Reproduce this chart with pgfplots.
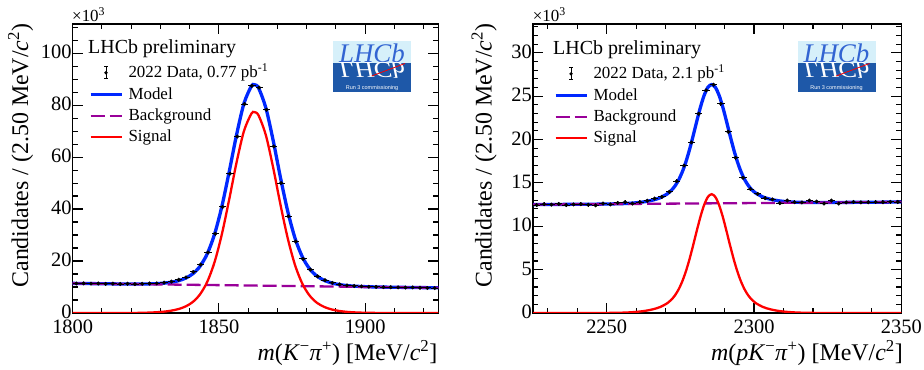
\documentclass[border=0pt]{standalone}
\usepackage{pgfplots}
\pgfplotsset{compat=1.18}
\usepackage{pgfplotstable}
\usepackage{fontspec}
\setmainfont{Liberation Serif}
\newfontfamily\logosans{Liberation Sans}
\definecolor{rootblue}{RGB}{0,40,255}
\definecolor{rootred}{RGB}{255,0,0}
\definecolor{rootviolet}{RGB}{153,0,153}
\definecolor{logolight}{RGB}{214,240,250}
\definecolor{logodark}{RGB}{30,88,168}
\definecolor{logotext}{RGB}{50,100,210}

% ---------- D0 -> K- pi+ (values in units of 10^3) ----------
\pgfplotstableread{
x y
1801.25 11.35
1803.75 11.40
1806.25 11.30
1808.75 11.35
1811.25 11.20
1813.75 11.30
1816.25 11.15
1818.75 11.25
1821.25 11.10
1823.75 11.25
1826.25 11.35
1828.75 11.40
1831.25 11.70
1833.75 12.10
1836.25 12.80
1838.75 13.70
1841.25 15.80
1843.75 18.60
1846.25 23.30
1848.75 30.50
1851.25 40.80
1853.75 53.60
1856.25 67.90
1858.75 80.40
1861.25 87.40
1863.75 86.70
1866.25 78.20
1868.75 64.10
1871.25 50.00
1873.75 37.20
1876.25 27.50
1878.75 20.80
1881.25 16.70
1883.75 14.10
1886.25 12.60
1888.75 11.60
1891.25 11.00
1893.75 10.60
1896.25 10.40
1898.75 10.25
1901.25 10.10
1903.75 10.05
1906.25 9.95
1908.75 9.90
1911.25 9.85
1913.75 9.80
1916.25 9.85
1918.75 9.70
1921.25 9.65
1923.75 9.60
}\dzdata

\pgfplotstableread{
x tot sig
1800 11.4 0
1810 11.264 0
1820 11.128 0
1823.55 11.16 0.08
1826.05 11.196 0.15
1828.55 11.292 0.28
1831.05 11.478 0.50
1833.55 11.814 0.87
1836.05 12.39 1.48
1838.55 13.376 2.50
1841.05 15.072 4.23
1843.55 18.008 7.20
1846.05 22.894 12.12
1848.55 30.50 19.76
1851.05 41.266 30.56
1853.55 54.612 43.94
1856.05 68.697 58.06
1858.55 80.603 70.0
1861.05 87.199 76.63
1862.1 87.855 77.3
1863.55 86.565 76.03
1866.05 78.861 68.36
1868.55 66.337 55.87
1871.05 52.033 41.6
1873.55 39.009 28.61
1876.05 28.675 18.31
1878.55 21.511 11.18
1881.05 16.927 6.63
1883.55 14.153 3.89
1886.05 12.529 2.30
1888.55 11.554 1.36
1891.05 10.96 0.80
1893.55 10.576 0.45
1896.05 10.348 0.256
1898.55 10.197 0.139
1901.05 10.096 0.072
1903.55 10.026 0.036
1910 9.904 0
1925 9.7 0
}\dzmodel

% ---------- Lambda_c+ -> p K- pi+ (values in units of 10^3) ----------
\pgfplotstableread{
x y
2226.25 12.45
2228.75 12.55
2231.25 12.50
2233.75 12.58
2236.25 12.45
2238.75 12.52
2241.25 12.55
2243.75 12.48
2246.25 12.42
2248.75 12.62
2251.25 12.52
2253.75 12.70
2256.25 12.78
2258.75 12.62
2261.25 12.80
2263.75 12.95
2266.25 13.20
2268.75 13.40
2271.25 13.97
2273.75 15.20
2276.25 17.00
2278.75 19.67
2281.25 22.98
2283.75 25.67
2286.25 26.33
2288.75 24.13
2291.25 20.90
2293.75 17.90
2296.25 15.60
2298.75 14.30
2301.25 13.74
2303.75 13.24
2306.25 13.10
2308.75 12.66
2311.25 12.97
2313.75 12.78
2316.25 12.75
2318.75 12.97
2321.25 12.85
2323.75 12.62
2326.25 12.97
2328.75 12.62
2331.25 12.75
2333.75 12.80
2336.25 12.76
2338.75 12.78
2341.25 12.80
2343.75 12.78
2346.25 12.82
2348.75 12.80
}\lcdata

\pgfplotstableread{
x tot sig
2225 12.5 0
2235 12.524 0
2245 12.548 0
2250.6 12.571 0.01
2255.6 12.615 0.042
2258.1 12.66 0.081
2260.6 12.732 0.147
2263.1 12.843 0.252
2265.6 13.017 0.42
2268.1 13.286 0.683
2270.6 13.746 1.137
2271.85 14.11 1.498
2273.1 14.614 1.999
2274.35 15.304 2.686
2275.6 16.225 3.604
2276.85 17.403 4.779
2278.1 18.832 6.205
2279.35 20.455 7.825
2280.6 22.159 9.526
2281.85 23.781 11.145
2283.1 25.13 12.491
2284.35 26.028 13.386
2285.6 26.345 13.7
2286.85 26.034 13.386
2288.1 25.142 12.491
2289.35 23.799 11.145
2290.6 22.183 9.526
2291.85 20.485 7.825
2293.1 18.868 6.205
2294.35 17.445 4.779
2295.6 16.273 3.604
2296.85 15.358 2.686
2298.1 14.674 1.999
2299.35 14.176 1.498
2300.6 13.818 1.137
2303.1 13.37 0.683
2305.6 13.113 0.42
2308.1 12.951 0.252
2310.6 12.852 0.147
2313.1 12.792 0.081
2315.6 12.759 0.042
2320.6 12.739 0.01
2325.6 12.743 0.002
2335 12.764 0
2350 12.8 0
}\lcmodel

\pgfplotsset{
  lhcb/.style={
    scale only axis, height=289bp,
    axis line style={line width=1.2bp},
    every tick/.style={black, line width=1.1bp},
    major tick length=10bp, minor tick length=5bp,
    tick align=inside,
    scaled ticks=false,
    /pgf/number format/assume math mode=true,
    /pgf/number format/1000 sep={},
    tick label style={font=\fontsize{20.5}{24}\selectfont},
    xticklabel style={yshift=-3.2bp},
    yticklabel style={xshift=2.4bp, yshift=1bp},
  },
  modelline/.style={rootblue, line width=3.3bp, smooth, no markers},
  bkgline/.style={rootviolet, line width=2.3bp, dash pattern=on 14bp off 5bp, no markers},
  sigline/.style={rootred, line width=2.3bp, smooth, no markers},
  datapts/.style={only marks, mark=*, mark size=1.8bp, black,
    error bars/.cd, x dir=both, x fixed=1.25, y dir=both, y fixed=0.2,
    error mark=none, error bar style={line width=1bp, black}},
}

\newcommand{\lhcblogo}{%
  \fill[logolight] (0,0) rectangle (78bp,-22.3bp);
  \fill[logodark] (0,-22.3bp) rectangle (78bp,-51.6bp);
  \node[anchor=base, inner sep=0, text=logotext, font=\fontsize{27}{27}\selectfont\itshape] at (39bp,-22.3bp) {LHCb};
  \node[anchor=base, inner sep=0, text=white, yscale=-0.85, font=\fontsize{27}{27}\selectfont\itshape] at (39bp,-22.3bp) {LHCb};
  \draw[red, line width=0.8bp] (38.7bp,-35.3bp) -- (72bp,-22.8bp);
  \node[inner sep=0, text=white, font=\logosans\fontsize{5.5}{6}\selectfont] at (39bp,-47bp) {Run 3 commissioning};
}

\newcommand{\legendblock}[1]{%
  \node[anchor=base west, inner sep=0, font=\fontsize{20}{24}\selectfont] at (88bp,316bp) {LHCb preliminary};
  \draw[line width=1bp] (106bp,291bp) -- (106bp,303.3bp);
  \draw[line width=1bp] (104bp,303.3bp) -- (108bp,303.3bp);
  \draw[line width=1bp] (104bp,291bp) -- (108bp,291bp);
  \fill (106bp,297.2bp) circle (1.8bp);
  \node[anchor=base west, inner sep=0, font=\fontsize{17}{20}\selectfont] at (128.3bp,292.7bp) {2022 Data, #1 pb\textsuperscript{-1}};
  \draw[rootblue, line width=3.3bp] (90.7bp,275.7bp) -- (121.7bp,275.7bp);
  \node[anchor=base west, inner sep=0, font=\fontsize{17}{20}\selectfont] at (128.3bp,270.7bp) {Model};
  \draw[rootviolet, line width=2.3bp, dash pattern=on 14bp off 5bp] (90.7bp,254.3bp) -- (121.7bp,254.3bp);
  \node[anchor=base west, inner sep=0, font=\fontsize{17}{20}\selectfont] at (128.3bp,249.3bp) {Background};
  \draw[rootred, line width=2.3bp] (90.7bp,233.3bp) -- (121.7bp,233.3bp);
  \node[anchor=base west, inner sep=0, font=\fontsize{17}{20}\selectfont] at (128.3bp,228.3bp) {Signal};
}

\begin{document}
\begin{tikzpicture}
% ---------------- left panel ----------------
\begin{axis}[lhcb, at={(72.7bp,57bp)}, anchor=south west, width=365.6bp,
  xmin=1800, xmax=1925, ymin=0, ymax=111.2,
  xtick={1800,1850,1900},
  minor xtick={1810,1820,1830,1840,1860,1870,1880,1890,1910,1920},
  ytick={0,20,40,60,80,100},
  minor ytick={5,10,15,25,30,35,45,50,55,65,70,75,85,90,95,105,110},
]
\addplot[modelline] table[x=x, y=tot] {\dzmodel};
\addplot[bkgline] coordinates {(1800,11.4) (1925,9.7)};
\addplot[sigline] table[x=x, y=sig] {\dzmodel};
\addplot[datapts] table[x=x, y=y] {\dzdata};
\end{axis}

% ---------------- right panel ----------------
\begin{axis}[lhcb, at={(533bp,57bp)}, anchor=south west, width=368.4bp,
  xmin=2225, xmax=2350, ymin=0, ymax=33.33,
  xtick={2250,2300,2350},
  minor xtick={2230,2240,2260,2270,2280,2290,2310,2320,2330,2340},
  ytick={0,5,10,15,20,25,30},
  minor ytick={1,2,3,4,6,7,8,9,11,12,13,14,16,17,18,19,21,22,23,24,26,27,28,29,31,32,33},
]
\addplot[modelline] table[x=x, y=tot] {\lcmodel};
\addplot[bkgline] coordinates {(2225,12.5) (2350,12.8)};
\addplot[sigline] table[x=x, y=sig] {\lcmodel};
\addplot[datapts] table[x=x, y=y] {\lcdata};
\end{axis}

% ---------------- axis titles ----------------
\node[anchor=base east, inner sep=0, font=\fontsize{24}{28}\selectfont] at (437.5bp,9.5bp)
  {\textit{m}(\textit{K}\textsuperscript{−}\textit{π}\textsuperscript{+}) [MeV/\textit{c}\textsuperscript{2}]};
\node[anchor=base east, inner sep=0, font=\fontsize{24}{28}\selectfont] at (903bp,9.5bp)
  {\textit{m}(\textit{pK}\textsuperscript{−}\textit{π}\textsuperscript{+}) [MeV/\textit{c}\textsuperscript{2}]};
\node[rotate=90, anchor=base east, inner sep=0, font=\fontsize{24}{28}\selectfont] at (28bp,346.5bp)
  {Candidates / (2.50 MeV/\textit{c}\textsuperscript{2})};
\node[rotate=90, anchor=base east, inner sep=0, font=\fontsize{24}{28}\selectfont] at (491.5bp,346.5bp)
  {Candidates / (2.50 MeV/\textit{c}\textsuperscript{2})};
\node[anchor=base west, inner sep=0, font=\fontsize{17}{19}\selectfont] at (72bp,348.3bp) {×10\textsuperscript{3}};
\node[anchor=base west, inner sep=0, font=\fontsize{17}{19}\selectfont] at (532.7bp,348.3bp) {×10\textsuperscript{3}};

% ---------------- legends ----------------
\legendblock{0.77}
\begin{scope}[shift={(465bp,-1bp)}]
\legendblock{2.1}
\end{scope}

% ---------------- logos ----------------
\begin{scope}[shift={(333bp,329.3bp)}]
\lhcblogo
\end{scope}
\begin{scope}[shift={(797.5bp,329.3bp)}]
\lhcblogo
\end{scope}

\pgfresetboundingbox
\useasboundingbox (0,0) rectangle (924bp,370bp);
\end{tikzpicture}
\end{document}
